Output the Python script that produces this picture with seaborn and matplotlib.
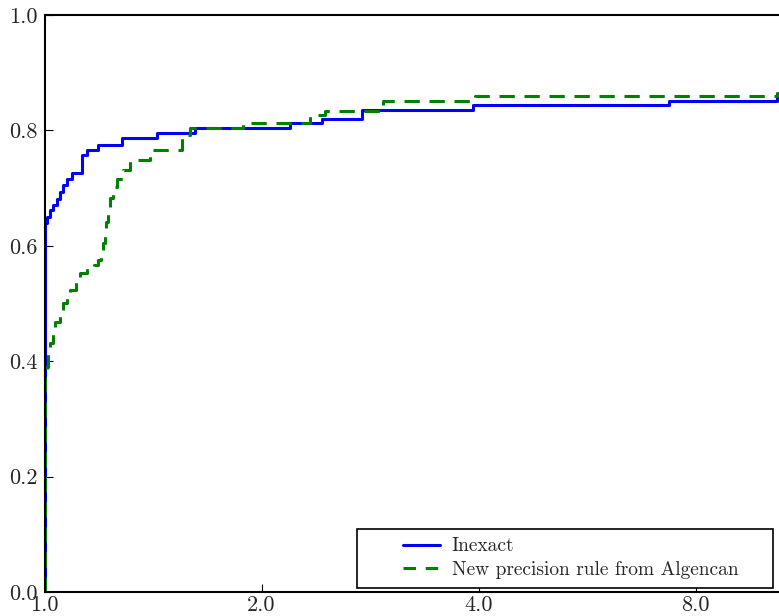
import numpy as np
import pandas as pd
import matplotlib
matplotlib.use("Agg")
import matplotlib.pyplot as plt
from matplotlib.ticker import FixedLocator, FixedFormatter, NullLocator
from matplotlib.legend_handler import HandlerLine2D
import seaborn as sns

# ---- data (performance profile, step functions) ----
inexact_tau = [1.0, 1.0, 1.0016, 1.008, 1.0177, 1.0275, 1.0407, 1.0508, 1.061,
               1.075, 1.0918, 1.127, 1.145, 1.186, 1.281, 1.433, 1.617, 2.19,
               2.427, 2.76, 3.93, 7.35, 10.36, 10.61]
inexact_rho = [0.0, 0.629, 0.640, 0.650, 0.662, 0.671, 0.681, 0.693, 0.705,
               0.715, 0.726, 0.757, 0.766, 0.775, 0.787, 0.796, 0.804, 0.813,
               0.820, 0.835, 0.844, 0.851, 0.856, 0.856]

algencan_tau = [1.0, 1.0, 1.008, 1.0112, 1.0177, 1.0275, 1.034, 1.0508, 1.061,
                1.075, 1.085, 1.105, 1.119, 1.145, 1.170, 1.186, 1.196, 1.205,
                1.212, 1.218, 1.225, 1.232, 1.244, 1.262, 1.285, 1.314, 1.400,
                1.551, 1.591, 1.885, 2.333, 2.45, 2.946, 3.95, 10.36, 10.61]
algencan_rho = [0.0, 0.371, 0.390, 0.414, 0.432, 0.454, 0.468, 0.489, 0.501,
                0.512, 0.523, 0.540, 0.553, 0.558, 0.566, 0.575, 0.588, 0.605,
                0.622, 0.642, 0.662, 0.682, 0.702, 0.716, 0.731, 0.749, 0.766,
                0.792, 0.804, 0.813, 0.827, 0.834, 0.851, 0.860, 0.865, 0.865]

labels = ["Inexact", "New precision rule from Algencan"]
x_ticks = [1.0, 2.0, 4.0, 8.0]
x_tick_labels = ["1.0", "2.0", "4.0", "8.0"]
y_ticks = [0.0, 0.2, 0.4, 0.6, 0.8, 1.0]
y_tick_labels = ["0.0", "0.2", "0.4", "0.6", "0.8", "1.0"]

sns.set_style("white")
plt.rcParams["font.family"] = ["cmr10", "DejaVu Serif"]
plt.rcParams["axes.unicode_minus"] = False
plt.rcParams["lines.scale_dashes"] = False

df1 = pd.DataFrame({"tau": inexact_tau, "rho": inexact_rho})
df2 = pd.DataFrame({"tau": algencan_tau, "rho": algencan_rho})

fig = plt.figure(figsize=(7.79, 6.16), dpi=100)
ax = fig.add_axes([44.5 / 779, 24 / 616, (784 - 44.5) / 779, (592 - 15) / 616])

sns.lineplot(data=df1, x="tau", y="rho", ax=ax, estimator=None, sort=False,
             drawstyle="steps-post", color="#0000ff", lw=2.2, label=labels[0])
sns.lineplot(data=df2, x="tau", y="rho", ax=ax, estimator=None, sort=False,
             drawstyle="steps-post", color="#008000", lw=2.2,
             label=labels[1] + "    ")
ax.lines[1].set_dashes((11, 7))

ax.set_xscale("log", base=2)
ax.set_xlim(1.0, 10.61)
ax.set_ylim(0.0, 1.0)
ax.xaxis.set_major_locator(FixedLocator(x_ticks))
ax.xaxis.set_major_formatter(FixedFormatter(x_tick_labels))
ax.xaxis.set_minor_locator(NullLocator())
ax.yaxis.set_major_locator(FixedLocator(y_ticks))
ax.yaxis.set_major_formatter(FixedFormatter(y_tick_labels))
ax.set_xlabel("")
ax.set_ylabel("")
ax.tick_params(axis="both", direction="in", length=6, width=0.8, color="black",
               labelsize=16, pad=5, left=True, bottom=True)
ax.tick_params(axis="x", pad=2.5)
for s in ax.spines.values():
    s.set_color("black")
    s.set_linewidth(1.5)


class RightHalfLine(HandlerLine2D):
    def get_xdata(self, legend, xdescent, ydescent, width, height, fontsize):
        x = np.array([-xdescent + width * 0.5, -xdescent + width])
        return x, x


handles, lbls = ax.get_legend_handles_labels()
leg = ax.legend(handles, lbls, loc="lower right",
                bbox_to_anchor=(773 / 779, 28 / 616),
                bbox_transform=fig.transFigure, fontsize=14, fancybox=False,
                frameon=True, edgecolor="black", framealpha=1,
                handlelength=3.8, handletextpad=0.6, borderpad=0.45,
                labelspacing=0.3, borderaxespad=0,
                handler_map={h: RightHalfLine() for h in handles})
leg.get_frame().set_linewidth(1.2)
for h in leg.get_lines():
    h.set_linewidth(2.2)
leg.get_lines()[1].set_dashes((9, 7))

fig.savefig("out.png", dpi=100)
